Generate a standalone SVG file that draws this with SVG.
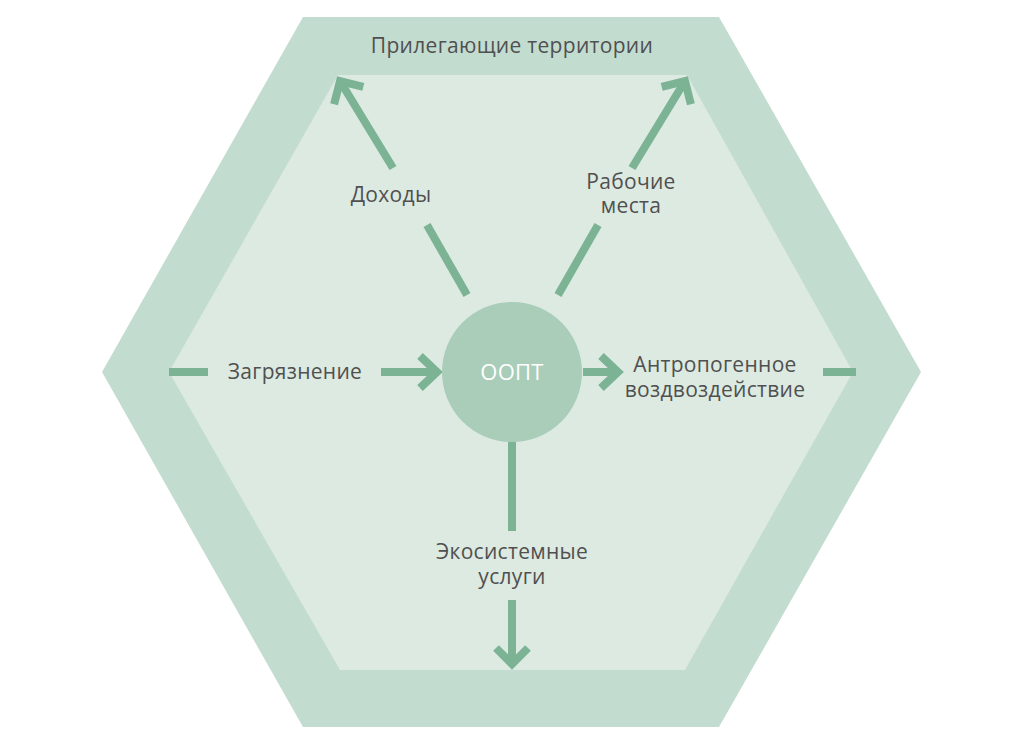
<svg xmlns="http://www.w3.org/2000/svg" width="1024" height="746" viewBox="0 0 1024 746">
<style>
.lbl{font-family:"Open Sans","Liberation Sans",sans-serif;font-size:21px;letter-spacing:0.3px;fill:#505050;text-anchor:middle}
.ln{stroke:#7bb394;stroke-width:8;fill:none;stroke-linejoin:miter;stroke-linecap:butt}
</style>
<rect width="1024" height="746" fill="#ffffff"/>
<g id="outer">
<polygon points="303,17 719,17 921,372 719,727 303,727 102,372" fill="#c3dcd0"/>
<text class="lbl" x="512" y="53">Прилегающие территории</text>
</g>
<g id="inner">
<polygon points="338,75 687,75 853,372 685,670 340,670 169,372" fill="#dceae1"/>
</g>
<g id="connectors">
<line class="ln" x1="467" y1="295" x2="427" y2="225"/>
<line class="ln" x1="393" y1="168" x2="340" y2="81"/>
<polyline class="ln" points="363.3,86.9 340,81 334.1,104.3"/>
<line class="ln" x1="558" y1="295" x2="598" y2="225"/>
<line class="ln" x1="632" y1="168" x2="685" y2="81"/>
<polyline class="ln" points="661.7,86.9 685,81 690.9,104.3"/>
<line class="ln" x1="169" y1="372" x2="208" y2="372"/>
<line class="ln" x1="381" y1="372" x2="437" y2="372"/>
<polyline class="ln" points="420,356 437,372 420,388"/>
<line class="ln" x1="583" y1="372" x2="618" y2="372"/>
<polyline class="ln" points="601,356 618,372 601,388"/>
<line class="ln" x1="823" y1="372" x2="856" y2="372"/>
<line class="ln" x1="512" y1="440" x2="512" y2="531"/>
<line class="ln" x1="512" y1="600" x2="512" y2="664"/>
<polyline class="ln" points="496,648 512,664 528,648"/>
</g>
<g id="oopt">
<circle cx="512" cy="372" r="70" fill="#a9cdb9"/>
<text class="lbl" x="512" y="380" style="fill:#ffffff;font-size:22px">ООПТ</text>
</g>
<g id="dohody"><text class="lbl" x="391" y="202">Доходы</text></g>
<g id="rabochie"><text class="lbl" x="631" y="189">Рабочие<tspan x="631" dy="24">места</tspan></text></g>
<g id="zagr"><text class="lbl" x="295" y="379">Загрязнение</text></g>
<g id="antrop"><text class="lbl" x="715" y="372">Антропогенное<tspan x="715" dy="25">воздвоздействие</tspan></text></g>
<g id="eco"><text class="lbl" x="512" y="559">Экосистемные<tspan x="512" dy="25">услуги</tspan></text></g>
</svg>
